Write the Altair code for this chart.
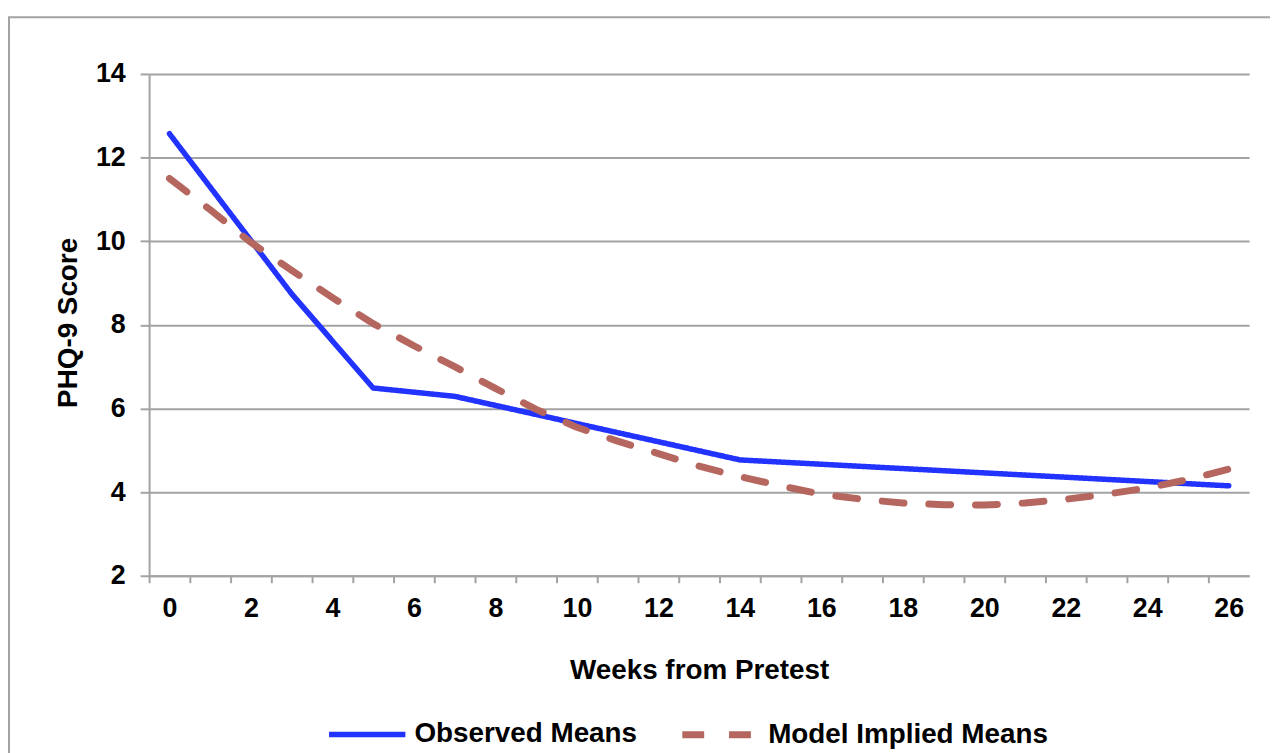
import altair as alt
import pandas as pd

series_names = ["Observed Means", "Model Implied Means"]
series_colors = ["#2233FF", "#B5675F"]

obs_weeks = [0, 3, 5, 7, 14, 26]
obs_scores = [12.57, 8.74, 6.49, 6.29, 4.77, 4.15]

model_weeks = list(range(0, 27))
model_scores = [11.50, 10.75, 9.97, 9.30, 8.65, 8.03, 7.50, 7.00, 6.48, 5.98,
                5.55, 5.22, 4.92, 4.62, 4.37, 4.15, 3.95, 3.83, 3.74, 3.70,
                3.69, 3.74, 3.83, 3.95, 4.10, 4.30, 4.55]

y_ticks = [2, 4, 6, 8, 10, 12, 14]
x_tick_values = list(range(0, 28))

df = pd.concat([
    pd.DataFrame({"week": obs_weeks, "score": obs_scores, "series": series_names[0]}),
    pd.DataFrame({"week": model_weeks, "score": model_scores, "series": series_names[1]}),
], ignore_index=True)

GRAY = "#A3A3A3"
FONT = "Liberation Sans"

legend = alt.Legend(
    title=None, orient="none", legendX=178, legendY=623, direction="horizontal",
    symbolType="stroke", symbolSize=5900,
    labelFontSize=28, labelFont=FONT, labelFontWeight="bold", labelColor="black",
    columnPadding=30, labelOffset=6, padding=0, labelLimit=0,
)

lines = alt.Chart(df).mark_line(strokeCap="round", strokeJoin="round").encode(
    x=alt.X("week:Q",
            scale=alt.Scale(domain=[-0.5, 26.5], nice=False, zero=False),
            axis=alt.Axis(values=x_tick_values, tickOffset=-20.5, labelOffset=20.5,
                          labelExpr="datum.value % 2 == 0 && datum.value <= 26 ? datum.label : ''",
                          labelOverlap=False, labelFlush=False, grid=False,
                          tickSize=7, tickWidth=2, tickColor=GRAY,
                          domainColor=GRAY, domainWidth=2,
                          labelFont=FONT, labelFontSize=27, labelFontWeight="bold",
                          labelColor="black", labelPadding=13,
                          title="Weeks from Pretest", titleFont=FONT, titleFontSize=28,
                          titleFontWeight="bold", titleColor="black",
                          titleX=553.5, titleY=103, titleAlign="center",
                          titleBaseline="alphabetic")),
    y=alt.Y("score:Q",
            scale=alt.Scale(domain=[2, 14], nice=False, zero=False),
            axis=alt.Axis(values=y_ticks, grid=True, gridColor=GRAY, gridWidth=2,
                          tickSize=9, tickWidth=2, tickColor=GRAY,
                          domainColor=GRAY, domainWidth=2,
                          labelFont=FONT, labelFontSize=27, labelFontWeight="bold",
                          labelColor="black", labelPadding=15,
                          title="PHQ-9 Score", titleFont=FONT, titleFontSize=28,
                          titleFontWeight="bold", titleColor="black",
                          titleAngle=270, titleX=-73, titleY=250,
                          titleAlign="center", titleBaseline="alphabetic")),
    color=alt.Color("series:N", scale=alt.Scale(domain=series_names, range=series_colors),
                    legend=legend),
    strokeDash=alt.StrokeDash("series:N",
                              scale=alt.Scale(domain=series_names, range=[[1, 0], [22, 25]]),
                              legend=legend),
    strokeWidth=alt.StrokeWidth("series:N",
                                scale=alt.Scale(domain=series_names, range=[5.5, 7]),
                                legend=legend),
    order=alt.Order("week:Q"),
)

frame = alt.Chart(pd.DataFrame({"k": [0]})).mark_rect(
    fillOpacity=0, stroke=GRAY, strokeWidth=2
).encode(
    x=alt.value(-141), x2=alt.value(1300),
    y=alt.value(-57), y2=alt.value(800),
)

chart = alt.layer(frame, lines).properties(
    width=1107, height=505,
    padding={"left": 142, "top": 64, "right": 21, "bottom": 176},
    autosize=alt.AutoSizeParams(type="none"),
).configure(font=FONT).configure_view(stroke=None)

chart.save("out.html", embed_options={"renderer": "svg", "actions": False})
